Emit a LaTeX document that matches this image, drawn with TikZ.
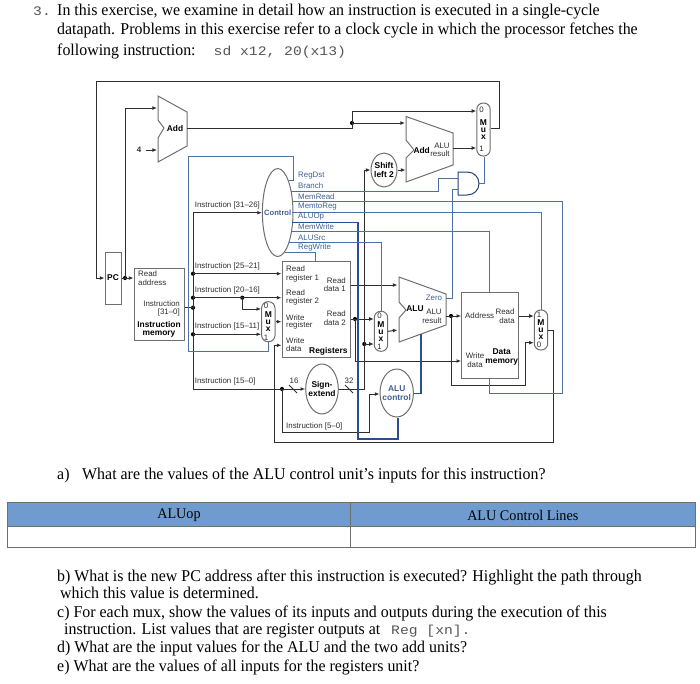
\documentclass[tikz,border=0pt]{standalone}
\usepackage{fontspec}
\usetikzlibrary{arrows.meta,shapes.geometric}
\setmainfont{Liberation Sans}
\newfontfamily\bodyf[FakeStretch=0.965]{Liberation Serif}
\newfontfamily\codef[FakeStretch=1.13]{Liberation Mono}
\definecolor{wirec}{HTML}{2E2E2E}
\definecolor{boxc}{HTML}{6E6E6E}
\definecolor{ctrlc}{HTML}{4F719F}
\definecolor{aluopc}{HTML}{2A4F90}
\definecolor{headc}{HTML}{6F9BCF}
\definecolor{ctxt}{HTML}{3F5F94}
\definecolor{codec}{HTML}{555555}
\tikzset{
 wire/.style={draw=wirec,line width=1pt},
 awire/.style={wire,-{Latex[length=4.6pt,width=3.8pt]}},
 ctrl/.style={draw=ctrlc,line width=1pt},
 aluop/.style={draw=aluopc,line width=1.5pt},
 unit/.style={draw=boxc,line width=1pt,fill=none},
 blockbox/.style={unit,rectangle,inner sep=0pt},
 oval/.style={unit,ellipse,inner sep=0pt},
 muxbox/.style={unit,rectangle,rounded corners=6.4pt,minimum width=13.4pt,minimum height=40pt,inner sep=0pt,font=\fontsize{8.5}{7}\selectfont\bfseries,align=center,text=black},
 lbl/.style={font=\fontsize{7.9}{8.4}\selectfont,text=wirec,inner sep=0pt},
 blbl/.style={lbl,font=\fontsize{8.4}{9.6}\selectfont\bfseries,text=black,align=center},
 clbl/.style={lbl,anchor=west,text=ctxt,font=\fontsize{7.9}{8.4}\selectfont},
 ilbl/.style={lbl,anchor=west},
 dotn/.style={circle,fill=black,inner sep=0pt,minimum size=4.2pt},
 para/.style={anchor=base west,inner sep=0pt,font=\fontsize{16.5}{16.5}\selectfont\bodyf,text=black},
 mono/.style={anchor=base west,inner sep=0pt,font=\fontsize{13}{13}\selectfont\codef,text=codec},
 tabcell/.style={inner sep=0pt,font=\fontsize{14.7}{15}\selectfont\bodyf,text=black},
}
\begin{document}
\begin{tikzpicture}[x=1pt,y=-1pt]
\useasboundingbox (0,0) rectangle (700,683);
% text
\node[mono] (n3) at (33,15) {3.};
\node[para] (t1) at (57,15) {In this exercise, we examine in detail how an instruction is executed in a single-cycle};
\node[para] (t2) at (57,34.3) {datapath. Problems in this exercise refer to a clock cycle in which the processor fetches the};
\node[para] (t3) at (57,55.5) {following instruction:};
\node[mono] (t3c) at (213.5,55.5) {sd x12, 20(x13)};
\node[para] (qa) at (57,479.8) {a)};
\node[para] (qa2) at (82,479.8) {What are the values of the ALU control unit’s inputs for this instruction?};
\node[para] (qb) at (57,581.3) {b) What is the new PC address after this instruction is executed? Highlight the path through};
\node[para] (qb2) at (60,598.3) {which this value is determined.};
\node[para] (qc) at (57,617.3) {c) For each mux, show the values of its inputs and outputs during the execution of this};
\node[para] (qc2) at (64,634.8) {instruction. List values that are register outputs at};
\node[mono] (qc3) at (391,634.8) {Reg [xn].};
\node[para] (qd) at (57,652.8) {d) What are the input values for the ALU and the two add units?};
\node[para] (qe) at (57,671.3) {e) What are the values of all inputs for the registers unit?};
% table
\fill[headc] (7.5,502.7) rectangle (695,526.7);
\draw[boxc,line width=0.7pt] (7.5,502.7) rectangle (695,547.3);
\draw[boxc,line width=0.7pt] (7.5,526.7) -- (695,526.7);
\draw[boxc,line width=0.7pt] (350.8,502.7) -- (350.8,547.3);
\node[tabcell] (h1) at (179,515) {ALUop};
\node[tabcell] (h2) at (522.8,515) {ALU Control Lines};
% blocks
\node[blockbox,minimum width=16pt,minimum height=52pt] (pc) at (113,278) {};
\node[blbl] at (pc.center) {PC};
\node[blockbox,minimum width=50pt,minimum height=72pt] (imem) at (159,304) {};
\node[blockbox,minimum width=68pt,minimum height=96pt] (regs) at (316,309.7) {};
\node[blockbox,minimum width=56.6pt,minimum height=85.6pt] (dmem) at (490,335.5) {};
\node[oval,minimum width=30.6pt,minimum height=88pt] (ctrlu) at (277.7,212.5) {};
\node[oval,minimum width=26pt,minimum height=34pt] (shift) at (384,170) {};
\node[oval,minimum width=32.6pt,minimum height=50pt] (sext) at (322,389) {};
\node[oval,minimum width=33.4pt,minimum height=48pt] (aluc) at (396.7,393) {};
\node[muxbox,minimum height=53pt] (mpc) at (483.5,129.5) {M\\u\\x};
\node[muxbox] (mreg) at (268.3,321.7) {M\\u\\x};
\node[muxbox] (malu) at (381,331.3) {M\\u\\x};
\node[muxbox] (mmem) at (541,330) {M\\u\\x};
% trapezoids
\draw[unit] (158,96) -- (187,112) -- (187,146) -- (158,162) -- (158,138) -- (164,128) -- (158,120) -- cycle;
\draw[unit] (406,116.5) -- (453,133) -- (453,165) -- (406,182) -- (406,158) -- (414,150) -- (406,140) -- cycle;
\draw[unit] (399,277) -- (446,294) -- (446,325) -- (399,342) -- (399,318) -- (406,310) -- (399,302) -- cycle;
% and gate
\coordinate (gtop) at (458,172);
\coordinate (gbot) at (458,195);
\coordinate (gout) at (479,183.5);
\coordinate (gina) at (458,178);
\coordinate (ginb) at (458,189);
\draw[draw=aluopc!80!black,line width=1pt] (gtop) -- (467,172) .. controls (474,172) and (479,177) .. (gout) .. controls (479,190) and (474,195) .. (467,195) -- (gbot) -- cycle;
% named ports
\coordinate (addA) at (157,108); \coordinate (addB) at (157,150);
\coordinate (addO) at (187,128);
\coordinate (four) at (146,150);
\coordinate (add2A) at (405,123); \coordinate (add2B) at (405.5,170);
\coordinate (add2O) at (453,148);
\coordinate (aluO) at (446,316); \coordinate (aluA) at (397.5,285); \coordinate (aluB) at (397.5,330);
\coordinate (aluBot) at (421,333.5); \coordinate (aluZ) at (446,298);
\node[dotn] (dpc) at (125,278) {};
\node[dotn] (d1) at (193,273.7) {};
\node[dotn] (d2) at (193,297.7) {};
\node[dotn] (d3) at (193,307.7) {};
\node[dotn] (d4) at (193,334.3) {};
\node[dotn] (d5) at (242.3,297.7) {};
\node[dotn] (d6) at (282,389) {};
\node[dotn] (d7) at (355,319) {};
\node[dotn] (d8) at (364.3,344) {};
\node[dotn] (d9) at (451,316) {};
\node[dotn] (d10) at (352,123) {};
% data wires
\draw[awire] (mpc.east |- 0,128) -- (499,128) -- (499,81) -- (96,81) -- (96,278) -- (pc.west);
\draw[wire] (pc.east) -- (dpc.center);
\draw[awire] (dpc.center) -- (imem.west |- dpc.center);
\draw[awire] (dpc.center) -- (125,108) -- (addA);
\draw[awire] (four) -- (addB);
\draw[wire] (addO) -- (352,128) -- (d10.center);
\draw[awire] (d10.center) -- (352,111) -- (mpc.west |- 0,111);
\draw[awire] (d10.center) -- (add2A);
\draw[awire] (add2O) -- (mpc.west |- add2O);
\draw[awire] (shift.east) -- (add2B);
\draw[wire] (imem.east |- d3) -- (d3.center);
\draw[awire] (d6.center) -- (sext.west);
\draw[wire] (193,212.7) -- (193,389) -- (d6.center);
\draw[awire] (193,212.7) -- (ctrlu.west |- 0,212.7);
\draw[awire] (d1.center) -- (regs.west |- d1.center);
\draw[awire] (d2.center) -- (regs.west |- d2.center);
\draw[awire] (d5.center) -- (242.3,309) -- (mreg.west |- 0,309);
\draw[awire] (d4.center) -- (mreg.west |- d4.center);
\draw[awire] (mreg.east) -- (regs.west |- mreg.east);
\draw[awire] (mmem.east) -- (553.3,330) -- (553.3,442.7) -- (274,442.7) -- (274,345.3) -- (regs.west |- 0,345.3);
\draw[awire] (d6.center) -- (282,432.7) -- (369.3,432.7) -- (369.3,394) -- (aluc.west |- 0,394);
\draw[wire] (sext.east) -- (364.3,389) -- (d8.center);
\draw[awire] (d8.center) -- (364.3,170) -- (shift.west);
\draw[awire] (d8.center) -- (malu.west |- d8.center);
\draw[awire] (regs.east |- aluA) -- (aluA);
\draw[wire] (regs.east |- d7) -- (d7.center);
\draw[awire] (d7.center) -- (malu.west |- d7.center);
\draw[awire] (d7.center) -- (355,361) -- (dmem.west |- 0,361);
\draw[awire] (malu.east) -- (aluB);
\draw[wire] (aluO) -- (d9.center);
\draw[awire] (d9.center) -- (dmem.west |- d9.center);
\draw[awire] (d9.center) -- (451,385.7) -- (525,385.7) -- (525,342.7) -- (mmem.west |- 0,342.7);
\draw[awire] (dmem.east |- d9) -- (mmem.west |- d9);
% slashes
\draw[wire] (289,385) -- (297,393);
\draw[wire] (345,385) -- (353,393);
% control wires
\draw[ctrl] (289,180.7) -- (293.7,180.7) -- (293.7,156.7) -- (188.3,156.7) -- (188.3,351) -- (268,351) -- (268,351 |- mreg.south);
\draw[ctrl] (291,191.7) -- (438,191.7) -- (438,178) -- (gina);
\draw[ctrl] (292,201.7) -- (562,201.7) -- (562,393) -- (489,393) -- (489,378.3);
\draw[ctrl] (292.3,212) -- (541,212) -- (541,212 |- mmem.north);
\draw[aluop] (292,222.7) -- (358,222.7) -- (358,439) -- (398,439) -- (398,439 |- aluc.south);
\draw[aluop] (aluc.east) ++(0,0.3) -- (421,393.3) -- (aluBot);
\draw[ctrl] (291,231.7) -- (489,231.7) -- (489,292.7);
\draw[ctrl] (289,242) -- (381,242) -- (381,242 |- malu.north);
\draw[ctrl] (285,252.7) -- (315,252.7) -- (315,261.7);
\draw[ctrl] (aluZ) -- (452,298) -- (452,189) -- (ginb);
\draw[ctrl] (gout) -- (484,183.5) -- (484,183.5 |- mpc.south);
% labels
\node[blbl] at (175,128) {Add};
\node[blbl] at (421.7,150) {Add};
\node[blbl] at (415,309) {ALU};
\node[lbl] at (139,150) {\bfseries 4};
\node[lbl,anchor=west] at (138,274) {Read};
\node[lbl,anchor=west] at (138,282.7) {address};
\node[lbl,anchor=east] at (180,303.3) {Instruction};
\node[lbl,anchor=east] at (180,312) {[31–0]};
\node[blbl] at (159,329) {Instruction\\[-1.5pt]memory};
\node[ilbl] at (194.7,205.5) {Instruction [31–26]};
\node[ilbl] at (194.7,266) {Instruction [25–21]};
\node[ilbl] at (194.7,290) {Instruction [20–16]};
\node[ilbl] at (194.7,326.7) {Instruction [15–11]};
\node[ilbl] at (194.7,381.7) {Instruction [15–0]};
\node[ilbl] at (286,426) {Instruction [5–0]};
\node[blbl,text=ctxt,font=\fontsize{7.6}{9}\selectfont\bfseries] at (277.7,213) {Control};
\node[clbl] at (298,175.5) {RegDst};
\node[clbl] at (298,186) {Branch};
\node[clbl] at (298,196.3) {MemRead};
\node[clbl] at (298,207) {MemtoReg};
\node[clbl] at (298,217) {ALUOp};
\node[clbl] at (298,227) {MemWrite};
\node[clbl] at (298,237.3) {ALUSrc};
\node[clbl] at (298,247.5) {RegWrite};
\node[lbl,anchor=west] at (286,269) {Read};
\node[lbl,anchor=west] at (286,278) {register 1};
\node[lbl,anchor=west] at (286,293) {Read};
\node[lbl,anchor=west] at (286,301.7) {register 2};
\node[lbl,anchor=west] at (286,317.7) {Write};
\node[lbl,anchor=west] at (286,325.7) {register};
\node[lbl,anchor=west] at (286,341) {Write};
\node[lbl,anchor=west] at (286,349) {data};
\node[lbl,anchor=east] at (346,280.7) {Read};
\node[lbl,anchor=east] at (346,289) {data 1};
\node[lbl,anchor=east] at (346,314) {Read};
\node[lbl,anchor=east] at (346,322.7) {data 2};
\node[blbl,anchor=west] at (309,351) {Registers};
\node[blbl] at (sext.center) {Sign-\\extend};
\node[blbl] at (shift.center) {Shift\\left 2};
\node[blbl,text=ctxt] at (aluc.center) {ALU\\control};
\node[lbl] at (294,380.7) {16};
\node[lbl] at (349,380.7) {32};
\node[lbl] at (442,145.7) {ALU};
\node[lbl] at (440,153.3) {result};
\node[lbl] at (434,312) {ALU};
\node[lbl] at (432,320.7) {result};
\node[lbl,text=ctxt] at (434,298) {Zero};
\node[lbl,anchor=west] at (465,316) {Address};
\node[lbl] at (505,312) {Read};
\node[lbl] at (507,320.7) {data};
\node[lbl] at (475,356) {Write};
\node[lbl] at (475,364.3) {data};
\node[blbl] at (501.7,357) {Data\\[-1.5pt]memory};
% mux digits
\node[lbl] at (481.5,110) {0};
\node[lbl] at (481.5,149) {1};
\node[lbl] at (266,306) {0};
\node[lbl] at (266,338) {1};
\node[lbl] at (379.5,316) {0};
\node[lbl] at (379.5,347) {1};
\node[lbl] at (539,315) {1};
\node[lbl] at (539,345) {0};
\end{tikzpicture}
\end{document}
